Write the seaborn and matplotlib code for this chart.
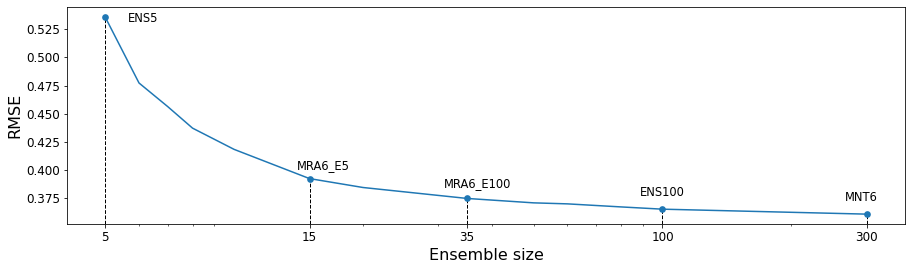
import matplotlib
matplotlib.use("Agg")
import matplotlib.pyplot as plt
import matplotlib.ticker as mticker
import seaborn as sns
import pandas as pd

# curve data
ens_size = [5, 6, 7, 8, 10, 15, 20, 35, 50, 60, 80, 100, 300]
rmse = [0.5359, 0.4773, 0.4564, 0.4373, 0.4185, 0.3926, 0.3847, 0.3750,
        0.3711, 0.3702, 0.3675, 0.3655, 0.3611]

# labelled points
label_names = ["ENS5", "MRA6_E5", "MRA6_E100", "ENS100", "MNT6"]
label_x = [5, 15, 35, 100, 300]
label_y = [0.5359, 0.3926, 0.3750, 0.3655, 0.3611]
label_offsets = [(23, -2), (-13, 13), (-23, 15), (-23, 17), (-22, 17)]

xtick_values = [5, 15, 35, 100, 300]

W, H, DPI = 911, 268, 72
fig = plt.figure(figsize=(W / DPI, H / DPI), dpi=DPI)
ax = fig.add_axes([67 / W, 1 - 224 / H, (905 - 67) / W, (224 - 7) / H])

df = pd.DataFrame({"size": ens_size, "rmse": rmse})
sns.lineplot(data=df, x="size", y="rmse", ax=ax, color="#1f77b4", lw=1.5)
ldf = pd.DataFrame({"size": label_x, "rmse": label_y})
ax.set_xscale("log")
ax.margins(x=0.05, y=0.05)
ax.autoscale_view()
ylo, yhi = ax.get_ylim()
xlo, xhi = ax.get_xlim()
ax.vlines(label_x, ylo, label_y, colors="black", linestyles="--", lw=1, zorder=1)
sns.scatterplot(data=ldf, x="size", y="rmse", ax=ax, color="#1f77b4", s=45,
                edgecolor="#1f77b4", linewidth=0, zorder=3)
ax.set_ylim(ylo, yhi)
ax.set_xlim(xlo, xhi)

for name, x, y, (dx, dy) in zip(label_names, label_x, label_y, label_offsets):
    ax.annotate(name, (x, y), xytext=(dx, dy), textcoords="offset points",
                ha="left", va="center", fontsize=11.5)

ax.set_xticks(xtick_values)
ax.xaxis.set_major_formatter(mticker.FixedFormatter([str(v) for v in xtick_values]))
ax.xaxis.set_minor_formatter(mticker.NullFormatter())
ax.yaxis.set_major_formatter(mticker.FormatStrFormatter("%.3f"))
ax.tick_params(labelsize=12)
ax.set_xlabel("Ensemble size", fontsize=16)
ax.set_ylabel("RMSE", fontsize=16)

fig.savefig("out.png", dpi=DPI)
